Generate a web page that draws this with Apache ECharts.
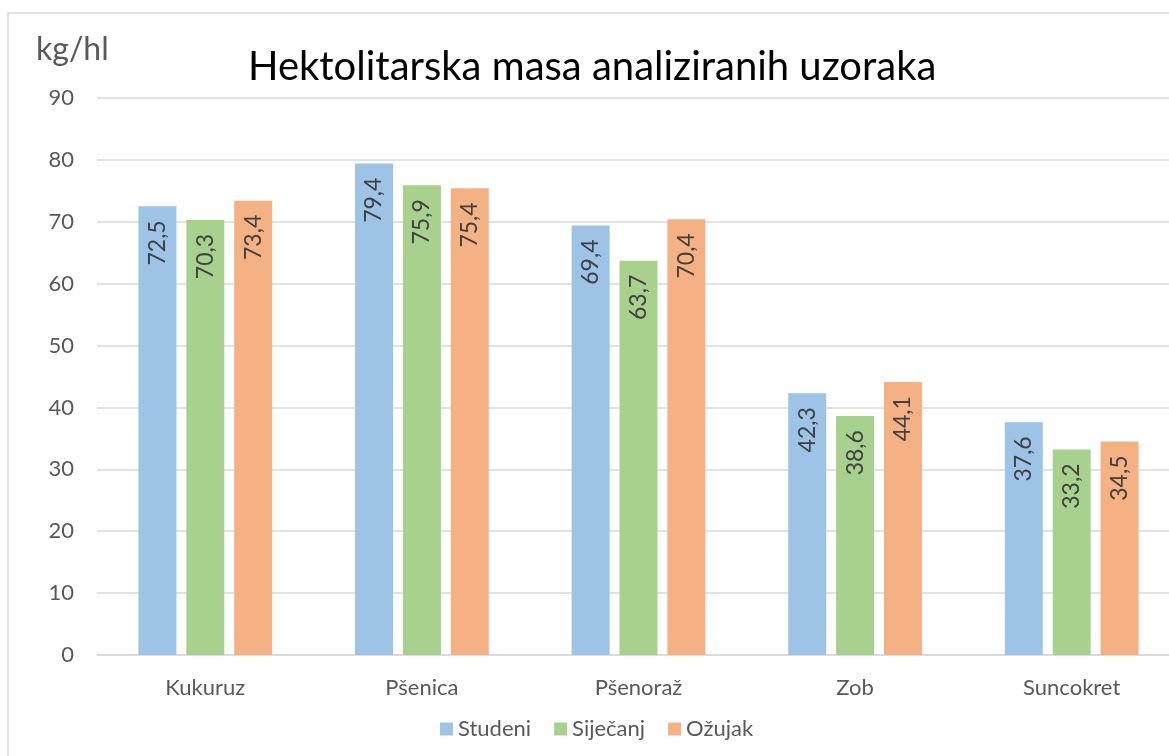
<!DOCTYPE html>
<html>
<head>
<meta charset="utf-8">
<script src="https://cdn.jsdelivr.net/npm/echarts@6/dist/echarts.min.js"></script>
<style>
html,body{margin:0;padding:0;background:#fff;}
#chart{width:1169px;height:756px;}
</style>
</head>
<body>
<div id="chart"></div>
<script>
const categories = ['Kukuruz', 'Pšenica', 'Pšenoraž', 'Zob', 'Suncokret'];
const seriesNames = ['Studeni', 'Siječanj', 'Ožujak'];
const studeni = [72.5, 79.4, 69.4, 42.3, 37.6];
const sijecanj = [70.3, 75.9, 63.7, 38.6, 33.2];
const ozujak = [73.4, 75.4, 70.4, 44.1, 34.5];
const colors = ['#9DC3E6', '#A9D18E', '#F4B183'];
const FONT = 'Lato, "Open Sans", sans-serif';

const chart = echarts.init(document.getElementById('chart'));
const dataSets = [studeni, sijecanj, ozujak];
const series = dataSets.map((d, i) => ({
  name: seriesNames[i],
  type: 'bar',
  data: d,
  barWidth: 38,
  barGap: '26%',
  itemStyle: { color: colors[i] },
  label: {
    show: true,
    position: 'insideTop',
    rotate: 90,
    align: 'right',
    verticalAlign: 'middle',
    distance: 14,
    fontFamily: FONT,
    fontSize: 23,
    color: '#404040',
    formatter: p => String(p.value).replace('.', ',')
  }
}));

chart.setOption({
  animation: false,
  color: colors,
  graphic: [{
    type: 'rect',
    shape: { x: 8, y: 13, width: 1200, height: 800 },
    style: { fill: 'none', stroke: '#d9d9d9', lineWidth: 1.5 },
    z: 0
  }],
  title: [{
    text: 'Hektolitarska masa analiziranih uzoraka',
    left: 243,
    top: 42,
    textStyle: { fontFamily: FONT, fontSize: 40, fontWeight: 'normal', color: '#000' }
  }, {
    text: 'kg/hl',
    left: 31,
    top: 29,
    textStyle: { fontFamily: FONT, fontSize: 32, fontWeight: 'normal', color: '#595959' }
  }],
  legend: {
    bottom: 16,
    left: 440,
    padding: 0,
    itemWidth: 13,
    itemHeight: 13,
    itemGap: 23,
    icon: 'rect',
    textStyle: { fontFamily: FONT, fontSize: 22, color: '#595959' },
    data: seriesNames
  },
  grid: { left: 97, width: 1083, top: 98, bottom: 101, containLabel: false, outerBoundsMode: 'none' },
  xAxis: {
    type: 'category',
    data: categories,
    axisLine: { lineStyle: { color: '#d9d9d9', width: 1.5 } },
    axisTick: { show: false },
    axisLabel: { fontFamily: FONT, fontSize: 22, color: '#595959', margin: 22 }
  },
  yAxis: {
    type: 'value',
    min: 0,
    max: 90,
    interval: 10,
    axisLine: { show: false },
    axisTick: { show: false },
    splitLine: { lineStyle: { color: '#d9d9d9', width: 1.5 } },
    axisLabel: { fontFamily: FONT, fontSize: 22, color: '#595959', margin: 23 }
  },
  series: series
});
</script>
</body>
</html>
